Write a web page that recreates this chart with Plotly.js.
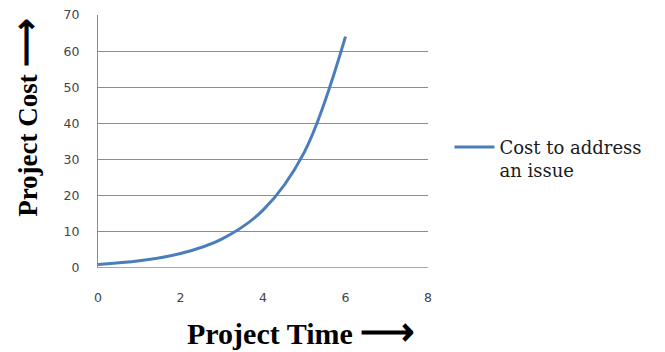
<!DOCTYPE html>
<html>
<head>
<meta charset="utf-8">
<script src="https://cdn.plot.ly/plotly-3.0.1.min.js"></script>
<style>html,body{margin:0;padding:0;background:#fff;}#chart{width:665px;height:352px;}</style>
</head>
<body>
<div id="chart"></div>
<script>
const projectTime = [0, 1, 2, 3, 4, 5, 6];
const projectCost = [1, 2, 4, 8, 16, 32, 64];
const seriesName = "Cost to address<br>an issue";
const xTicks = [0, 2, 4, 6, 8];
const yTicks = [0, 10, 20, 30, 40, 50, 60, 70];

const trace = {
  x: projectTime,
  y: projectCost,
  type: "scatter",
  mode: "lines",
  name: seriesName,
  line: {color: "#4a7ebb", width: 3, shape: "spline", smoothing: 1}
};

const layout = {
  width: 665, height: 352,
  margin: {l: 98, r: 237, t: 15, b: 84},
  paper_bgcolor: "#fff", plot_bgcolor: "#fff",
  showlegend: true,
  legend: {x: 1.065, y: 0.55, xanchor: "left", yanchor: "top", valign: "top",
    font: {family: "DejaVu Serif, serif", size: 18, color: "#1a1a1a"},
    itemwidth: 40, tracegroupgap: 0},
  xaxis: {range: [0, 8], tickvals: xTicks, showgrid: false, zeroline: false,
    showline: false, ticks: "", ticklabelstandoff: 20,
    tickfont: {family: "DejaVu Sans, Verdana, sans-serif", size: 12.5, color: "#444"}},
  yaxis: {range: [0, 70], tickvals: yTicks, showgrid: true, gridcolor: "#8c8c8c", gridwidth: 1,
    zeroline: false, showline: true, linecolor: "#8c8c8c", linewidth: 1, ticks: "", ticklabelstandoff: 15,
    tickfont: {family: "DejaVu Sans, Verdana, sans-serif", size: 12.5, color: "#444"}},
  shapes: [{type: "line", xref: "paper", yref: "y", x0: 0, x1: 1, y0: 0, y1: 0,
    line: {color: "#8c8c8c", width: 1.5}}],
  annotations: [
    {text: "<b>Project Cost <span style='font-size:34px'>⟶</span></b>", textangle: -90, xref: "paper", yref: "paper",
     x: -0.22, y: 0.595, xanchor: "center", yanchor: "middle", showarrow: false,
     font: {family: "Liberation Serif, serif", size: 27, color: "#000"}},
    {text: "<b>Project Time <span style='font-size:38px'>⟶</span></b>", xref: "paper", yref: "paper",
     x: 0.615, y: -0.25, xanchor: "center", yanchor: "middle", showarrow: false,
     font: {family: "Liberation Serif, serif", size: 30, color: "#000"}}
  ]
};

Plotly.newPlot("chart", [trace], layout, {displayModeBar: false, staticPlot: true});
</script>
</body>
</html>
